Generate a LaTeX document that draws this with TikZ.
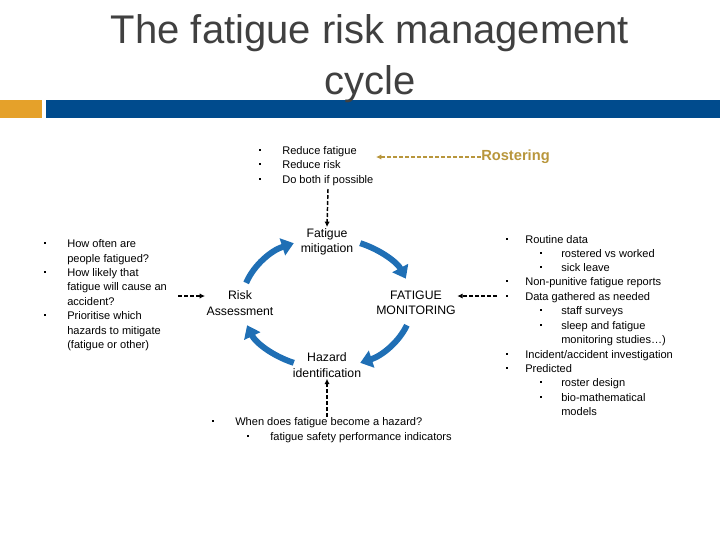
\documentclass[tikz,border=0pt]{standalone}
\usepackage{fontspec}
\setmainfont{Liberation Sans}
\usetikzlibrary{arrows.meta}
\definecolor{barblue}{HTML}{004B8D}
\definecolor{barorange}{HTML}{E5A12A}
\definecolor{cycblue}{HTML}{1F6FB5}
\definecolor{gold}{HTML}{B8963C}
\definecolor{titlegray}{HTML}{404040}
\tikzset{
  txt/.style={anchor=base west,inner sep=0,font=\fontsize{8.3pt}{10pt}\selectfont},
  bul/.style={fill=black,inner sep=0,minimum size=2.2pt},
  lbl/.style={align=center,font=\fontsize{9.2pt}{11.5pt}\selectfont,inner sep=1pt},
  cyc/.style={cycblue,line width=4.5pt,-{Triangle[width=13pt,length=9pt]}},
  dsh/.style={dashed,line width=1.1pt,dash pattern=on 3pt off 1.5pt,-{Latex[length=4pt,width=4pt]}}
}
\newcommand{\slashchar}{/}
\begin{document}
\begin{tikzpicture}[x=0.75pt,y=-0.75pt]
\useasboundingbox (0,0) rectangle (720,540);
% title and bar
\fill[barorange] (0,100) rectangle (42,118);
\fill[barblue] (46,100) rectangle (720,118);
\node[titlegray,font=\fontsize{30pt}{36pt}\selectfont] (t1) at (370,33) {The fatigue risk management};
\node[titlegray,font=\fontsize{30pt}{36pt}\selectfont] (t2) at (370,84) {cycle};
% top list
\foreach \y/\t [count=\i] in {153/Reduce fatigue,167/Reduce risk,182/Do both if possible}{
  \node[bul] (tb\i) at (260,\y-3) {};
  \node[txt] (tt\i) at (282,\y+1) {\t};
}
\node[gold,font=\bfseries\fontsize{11pt}{13pt}\selectfont,anchor=west,inner sep=0] (rost) at (481,157) {Rostering};
\coordinate (rosttip) at (376,157);
\draw[dsh,gold] (rost.west) -- (rosttip);
% cycle labels
\node[lbl] (fm) at (327,242) {Fatigue\\mitigation};
\node[lbl] (ra) at (240,303) {Risk\\Assessment};
\node[lbl] (mon) at (416,303) {FATIGUE\\MONITORING};
\node[lbl] (hz) at (327,365) {Hazard\\identification};
% blue arcs
\draw[cyc] (327,303) ++(198:85 and 65) arc[start angle=198,end angle=247,x radius=85,y radius=65];
\draw[cyc] (327,303) ++(293:85 and 65) arc[start angle=293,end angle=338,x radius=85,y radius=65];
\draw[cyc] (327,303) ++(20:85 and 65) arc[start angle=20,end angle=67,x radius=85,y radius=65];
\draw[cyc] (327,303) ++(113:85 and 65) arc[start angle=113,end angle=160,x radius=85,y radius=65];
% dashed connectors
\coordinate (topd) at (328,189);
\draw[dsh] (topd) -- (fm.north);
\coordinate (leftd) at (178,296);
\draw[dsh] (leftd) -- (ra.west |- leftd);
\coordinate (rightd) at (497,296);
\draw[dsh] (rightd) -- (mon.east |- rightd);
\coordinate (botd) at (327,417);
\draw[dsh] (botd) -- (hz.south);
% left list
\foreach \y/\t [count=\i] in {243/How often are,258/people fatigued?,272/How likely that,286/fatigue will cause an,301/accident?,315/Prioritise which,330/hazards to mitigate,344/(fatigue or other)}{
  \node[txt] (lt\i) at (67,\y+4) {\t};
}
\foreach \y [count=\i] in {243,272,315}{\node[bul] (lb\i) at (45,\y) {};}
% bottom list
\node[bul] (bb1) at (213,421) {};
\node[txt] (bt1) at (235,425) {When does fatigue become a hazard?};
\node[bul] (bb2) at (248,436) {};
\node[txt] (bt2) at (270,440) {fatigue safety performance indicators};
% right list
\foreach \y/\x/\t [count=\i] in {239/525/{Routine data},253/561/{rostered vs worked},267/561/{sick leave},281/525/{Non-punitive fatigue reports},296/525/{Data gathered as needed},310/561/{staff surveys},325/561/{sleep and fatigue},339/561/{monitoring studies\ldots)},354/525/{Incident\slashchar accident investigation},368/525/{Predicted},382/561/{roster design},397/561/{bio-mathematical},411/561/{models}}{
  \node[txt] (rt\i) at (\x,\y+4) {\t};
}
\foreach \y/\x [count=\i] in {239/507,281/507,296/507,354/507,368/507,253/541,267/541,310/541,325/541,382/541,397/541}{
  \node[bul] (rb\i) at (\x,\y) {};
}
\end{tikzpicture}
\end{document}
